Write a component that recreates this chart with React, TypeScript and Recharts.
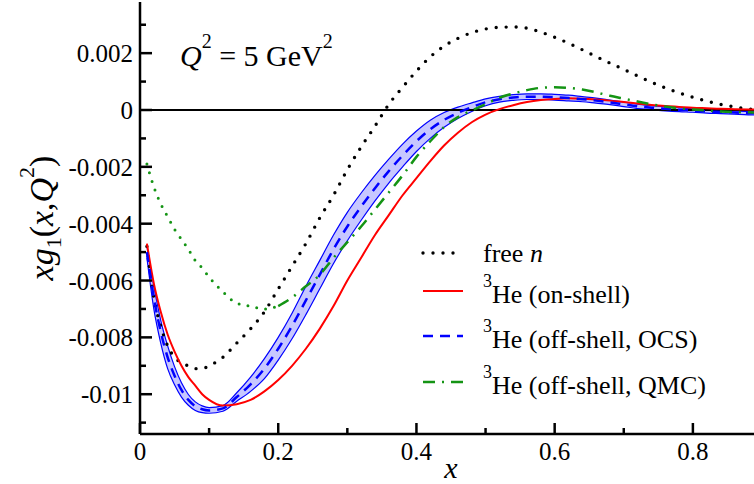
import React from "react";
import { ComposedChart, Line, Area, XAxis, YAxis, ReferenceLine, Legend } from "recharts";

// x grid shared by all curves
const xs = [
  0.01, 0.02, 0.03, 0.04, 0.05, 0.06, 0.07, 0.08, 0.09, 0.1, 0.12, 0.14, 0.16, 0.18, 0.2, 0.22, 0.24,
  0.26, 0.28, 0.3, 0.32, 0.34, 0.36, 0.38, 0.4, 0.42, 0.44, 0.46, 0.48, 0.5, 0.52, 0.54, 0.56, 0.58,
  0.6, 0.62, 0.64, 0.66, 0.68, 0.7, 0.72, 0.74, 0.76, 0.78, 0.8, 0.82, 0.84, 0.86, 0.88, 0.9,
];

const freeN = [
  -0.0048, -0.0066, -0.0076, -0.0083, -0.0087, -0.0089, -0.009, -0.0091, -0.0091, -0.009, -0.0087,
  -0.0082, -0.0077, -0.0071, -0.0063, -0.0055, -0.0047, -0.0038, -0.003, -0.0021, -0.0013, -0.00057,
  0.0002, 0.0008, 0.00137, 0.00187, 0.00225, 0.00252, 0.00272, 0.00285, 0.00291, 0.00292, 0.00288,
  0.00274, 0.00256, 0.00235, 0.00212, 0.00188, 0.00165, 0.00143, 0.0012, 0.00098, 0.00078, 0.0006,
  0.00045, 0.00031, 0.0002, 0.00011, 0.00004, 0.0,
];

const onShell = [
  -0.0047, -0.0061, -0.0071, -0.0079, -0.0085, -0.009, -0.0094, -0.0097, -0.01, -0.0102, -0.0104,
  -0.01035, -0.0102, -0.0099, -0.0095, -0.009, -0.0084, -0.0077, -0.0069, -0.006, -0.0052, -0.0044,
  -0.0037, -0.003, -0.0024, -0.0018, -0.00125, -0.0008, -0.00043, -0.00016, 0.00003, 0.00017, 0.00028,
  0.00035, 0.00039, 0.00041, 0.0004, 0.00037, 0.00033, 0.00028, 0.00023, 0.00018, 0.00014, 0.00011,
  0.00008, 0.00006, 0.00004, 0.00003, 0.00002, 0.00001,
];

const ocsCentre = [
  -0.005, -0.0066, -0.0078, -0.0087, -0.00935, -0.00985, -0.0102, -0.01042, -0.01053, -0.01057, -0.0105,
  -0.0101, -0.00965, -0.0091, -0.0084, -0.0076, -0.0067, -0.0058, -0.0049, -0.0041, -0.0034, -0.00275,
  -0.00215, -0.0016, -0.0011, -0.00068, -0.00035, -0.0001, 0.0001, 0.00027, 0.00038, 0.00044, 0.00047,
  0.00047, 0.00045, 0.00042, 0.00038, 0.00033, 0.00027, 0.0002, 0.00013, 0.00008, 0.00004, 0.00001,
  -0.00002, -0.00005, -0.00007, -0.00009, -0.00011, -0.00012,
];

const ocsLow = [
  -0.0052, -0.007, -0.0082, -0.0091, -0.00967, -0.0101, -0.01039, -0.01057, -0.01065, -0.01067, -0.0106,
  -0.01025, -0.0099, -0.00945, -0.0088, -0.00805, -0.0072, -0.0063, -0.0054, -0.0046, -0.00388,
  -0.0032, -0.00257, -0.002, -0.00146, -0.001, -0.00061, -0.0003, -0.00005, 0.00015, 0.00028,
  0.00034, 0.00037, 0.00037, 0.00035, 0.00032, 0.00029, 0.00024, 0.00019, 0.00012, 0.00005, 0.00001,
  -0.00003, -0.00006, -0.00008, -0.00011, -0.00013, -0.00015, -0.00017, -0.00018,
];

const ocsHigh = [
  -0.0048, -0.0062, -0.0074, -0.0083, -0.00903, -0.0096, -0.01001, -0.01027, -0.01041, -0.01047, -0.0104,
  -0.00995, -0.0094, -0.00875, -0.008, -0.00715, -0.0062, -0.0053, -0.0044, -0.0036, -0.00292,
  -0.0023, -0.00173, -0.0012, -0.00074, -0.00036, -0.00009, 0.0001, 0.00025, 0.00039, 0.00048,
  0.00054, 0.00057, 0.00057, 0.00055, 0.00052, 0.00047, 0.00042, 0.00035, 0.00028, 0.00021, 0.00015,
  0.00011, 0.00008, 0.00004, 0.00001, -0.00001, -0.00003, -0.00005, -0.00006,
];

// QMC: dotted below x = 0.2, dash-dot above
const qmcDotted = [
  -0.0019, -0.0027, -0.0033, -0.00375, -0.0042, -0.00455, -0.0049, -0.0053, -0.00556, -0.00588, -0.0064,
  -0.0068, -0.0069, -0.007, -0.0069, null, null, null, null, null, null, null, null, null, null, null,
  null, null, null, null, null, null, null, null, null, null, null, null, null, null, null, null, null,
  null, null, null, null, null, null, null,
];

const qmcDashDot = [
  null, null, null, null, null, null, null, null, null, null, null, null, null, null, -0.0069, -0.0066,
  -0.0062, -0.0058, -0.0052, -0.00465, -0.0041, -0.0035, -0.0029, -0.0023, -0.00165, -0.0011, -0.0006,
  -0.00025, -0.00002, 0.0002, 0.00043, 0.00058, 0.0007, 0.00078, 0.0008, 0.00078, 0.00072, 0.00062,
  0.0005, 0.0004, 0.0003, 0.0002, 0.00012, 0.00006, 0.00002, -0.00002, -0.00005, -0.00007, -0.00008,
  -0.00009,
];

const xTicks = [0, 0.1, 0.2, 0.3, 0.4, 0.5, 0.6, 0.7, 0.8, 0.9];
const xLabelled = [0, 0.2, 0.4, 0.6, 0.8];
const yTicks = [
  -0.011, -0.01, -0.009, -0.008, -0.007, -0.006, -0.005, -0.004, -0.003, -0.002, -0.001, 0, 0.001, 0.002,
  0.003,
];
const yLabelled = [-0.01, -0.008, -0.006, -0.004, -0.002, 0, 0.002];

const data = xs.map((x, i) => ({
  x,
  freeN: freeN[i],
  onShell: onShell[i],
  ocs: ocsCentre[i],
  band: [ocsLow[i], ocsHigh[i]],
  qmcLow: qmcDotted[i],
  qmc: qmcDashDot[i],
}));

const FONT = "'Liberation Serif', 'Times New Roman', Times, Tinos, 'DejaVu Serif', 'Noto Serif', serif";
const LEFT = 140;
const TOP = 2;
const RIGHT = 762;
const BOTTOM = 434;
const AXIS = { stroke: "#000", strokeWidth: 2.5 };

const lineStyles: Record<string, any> = {
  freeN: { stroke: "#000", strokeWidth: 3.4, strokeDasharray: "0 10", strokeLinecap: "round" },
  onShell: { stroke: "#ff0000", strokeWidth: 2 },
  ocs: { stroke: "#0000ff", strokeWidth: 2.5, strokeDasharray: "10 7" },
  qmc: { stroke: "#149414", strokeWidth: 2.5, strokeDasharray: "12 7 2 7" },
};

const legendOrder = ["freeN", "onShell", "ocs", "qmc"];
const legendLabels: Record<string, React.ReactNode> = {
  freeN: (
    <>
      free <tspan fontStyle="italic">n</tspan>
    </>
  ),
  onShell: (
    <>
      <tspan fontSize={18} dy={-16}>3</tspan>
      <tspan dy={16}>He (on-shell)</tspan>
    </>
  ),
  ocs: (
    <>
      <tspan fontSize={18} dy={-16}>3</tspan>
      <tspan dy={16}>He (off-shell, OCS)</tspan>
    </>
  ),
  qmc: (
    <>
      <tspan fontSize={18} dy={-16}>3</tspan>
      <tspan dy={16}>He (off-shell, QMC)</tspan>
    </>
  ),
};
const legendRowY = [23, 61, 106, 152];

const LeftTick = (props: any) => {
  const { y, payload } = props;
  const big = yLabelled.includes(payload.value);
  return (
    <g>
      <line x1={LEFT} x2={LEFT + (big ? 12 : 6)} y1={y} y2={y} {...AXIS} />
      {big && (
        <text x={LEFT - 7} y={y + 9} textAnchor="end" fontSize={25} fontFamily={FONT} fill="#000">
          {String(payload.value)}
        </text>
      )}
    </g>
  );
};

const RightTick = (props: any) => {
  const { y, payload } = props;
  const big = yLabelled.includes(payload.value);
  return <line x1={RIGHT} x2={RIGHT - (big ? 12 : 6)} y1={y} y2={y} {...AXIS} />;
};

const BottomTick = (props: any) => {
  const { x, payload } = props;
  const big = xLabelled.includes(payload.value);
  return (
    <g>
      <line x1={x} x2={x} y1={BOTTOM} y2={BOTTOM - (big ? 11 : 6)} {...AXIS} />
      {big && (
        <text x={x} y={BOTTOM + 26} textAnchor="middle" fontSize={25} fontFamily={FONT} fill="#000">
          {String(payload.value)}
        </text>
      )}
    </g>
  );
};

const TopTick = (props: any) => {
  const { x, payload } = props;
  const big = xLabelled.includes(payload.value);
  return <line x1={x} x2={x} y1={TOP} y2={TOP + (big ? 12 : 6)} {...AXIS} />;
};

const xLabel = (props: any) => {
  const vb = props.viewBox;
  return (
    <text x={vb.x + vb.width / 2} y={vb.y + 44} textAnchor="middle" fontSize={30} fontStyle="italic" fontFamily={FONT}>
      x
    </text>
  );
};

const yLabel = (props: any) => {
  const vb = props.viewBox;
  const cx = 53;
  const cy = vb.y + vb.height / 2;
  return (
    <text x={cx} y={cy} transform={`rotate(-90 ${cx} ${cy})`} textAnchor="middle" fontSize={34} fontFamily={FONT}>
      <tspan fontStyle="italic">xg</tspan>
      <tspan fontSize={22} dy={8}>1</tspan>
      <tspan dy={-8}>(</tspan>
      <tspan fontStyle="italic">x</tspan>
      <tspan>,</tspan>
      <tspan fontStyle="italic">Q</tspan>
      <tspan fontSize={22} dy={-19}>2</tspan>
      <tspan dy={19}>)</tspan>
    </text>
  );
};

const renderLegend = (props: any) => {
  const payload = props.payload || [];
  const items = legendOrder
    .map((key) => payload.find((p: any) => p.dataKey === key))
    .filter(Boolean);
  return (
    <svg width={330} height={180} style={{ overflow: "visible" }}>
      {items.map((item: any, i: number) => {
        const key = item.dataKey as string;
        const y = legendRowY[i];
        return (
          <g key={key}>
            <line x1={3} x2={43} y1={y} y2={y} {...lineStyles[key]} stroke={item.color} />
            <text x={63} y={key === "freeN" ? y + 9 : y + 12} fontSize={26} fontFamily={FONT} fill="#000">
              {legendLabels[key]}
            </text>
          </g>
        );
      })}
    </svg>
  );
};

export default function App() {
  return (
    <div
      style={{
        position: "absolute",
        left: 0,
        top: 0,
        width: 754,
        height: 484,
        overflow: "hidden",
        background: "#fff",
        fontFamily: FONT,
      }}
    >
      <ComposedChart width={770} height={484} data={data} margin={{ top: TOP, right: 8, bottom: 0, left: 0 }}>
        <XAxis
          xAxisId="b"
          dataKey="x"
          type="number"
          domain={[0, 0.9]}
          allowDataOverflow
          ticks={xTicks}
          interval={0}
          height={50}
          tickLine={false}
          axisLine={AXIS}
          tick={(p: any) => <BottomTick {...p} />}
          label={xLabel}
        />
        <XAxis
          xAxisId="t"
          orientation="top"
          type="number"
          domain={[0, 0.9]}
          allowDataOverflow
          ticks={xTicks}
          interval={0}
          height={0}
          tickLine={false}
          axisLine={AXIS}
          tick={(p: any) => <TopTick {...p} />}
        />
        <YAxis
          yAxisId="l"
          type="number"
          domain={[-0.0114, 0.0038]}
          allowDataOverflow
          ticks={yTicks}
          interval={0}
          width={140}
          tickLine={false}
          axisLine={AXIS}
          tick={(p: any) => <LeftTick {...p} />}
          label={yLabel}
        />
        <YAxis
          yAxisId="r"
          orientation="right"
          type="number"
          domain={[-0.0114, 0.0038]}
          allowDataOverflow
          ticks={yTicks}
          interval={0}
          width={0}
          tickLine={false}
          axisLine={AXIS}
          tick={(p: any) => <RightTick {...p} />}
        />
        <ReferenceLine xAxisId="b" yAxisId="l" y={0} stroke="#000" strokeWidth={2} />
        <Area
          xAxisId="b"
          yAxisId="l"
          dataKey="band"
          type="monotone"
          stroke="#0000ff"
          strokeWidth={1.2}
          fill="#b4b4ff"
          fillOpacity={0.75}
          legendType="none"
          isAnimationActive={false}
        />
        <Line xAxisId="b" yAxisId="l" dataKey="freeN" name="free n" type="monotone" dot={false} {...lineStyles.freeN} isAnimationActive={false} />
        <Line xAxisId="b" yAxisId="l" dataKey="onShell" name="3He (on-shell)" type="monotone" dot={false} {...lineStyles.onShell} isAnimationActive={false} />
        <Line xAxisId="b" yAxisId="l" dataKey="ocs" name="3He (off-shell, OCS)" type="monotone" dot={false} {...lineStyles.ocs} isAnimationActive={false} />
        <Line
          xAxisId="b"
          yAxisId="l"
          dataKey="qmcLow"
          type="monotone"
          dot={false}
          stroke="#149414"
          strokeWidth={3}
          strokeDasharray="0 9"
          strokeLinecap="round"
          legendType="none"
          isAnimationActive={false}
        />
        <Line xAxisId="b" yAxisId="l" dataKey="qmc" name="3He (off-shell, QMC)" type="monotone" dot={false} {...lineStyles.qmc} isAnimationActive={false} />
        <Legend
          layout="vertical"
          align="center"
          verticalAlign="middle"
          content={renderLegend}
          wrapperStyle={{ left: 420, top: 230, width: 330, height: 180 }}
        />
      </ComposedChart>
      <svg width={754} height={484} style={{ position: "absolute", left: 0, top: 0, pointerEvents: "none" }}>
        <text x={180} y={66} fontSize={30} fontFamily={FONT}>
          <tspan fontStyle="italic">Q</tspan>
          <tspan fontSize={20} dy={-18}>2</tspan>
          <tspan dy={18}> = 5 GeV</tspan>
          <tspan fontSize={20} dy={-18}>2</tspan>
        </text>
      </svg>
    </div>
  );
}
